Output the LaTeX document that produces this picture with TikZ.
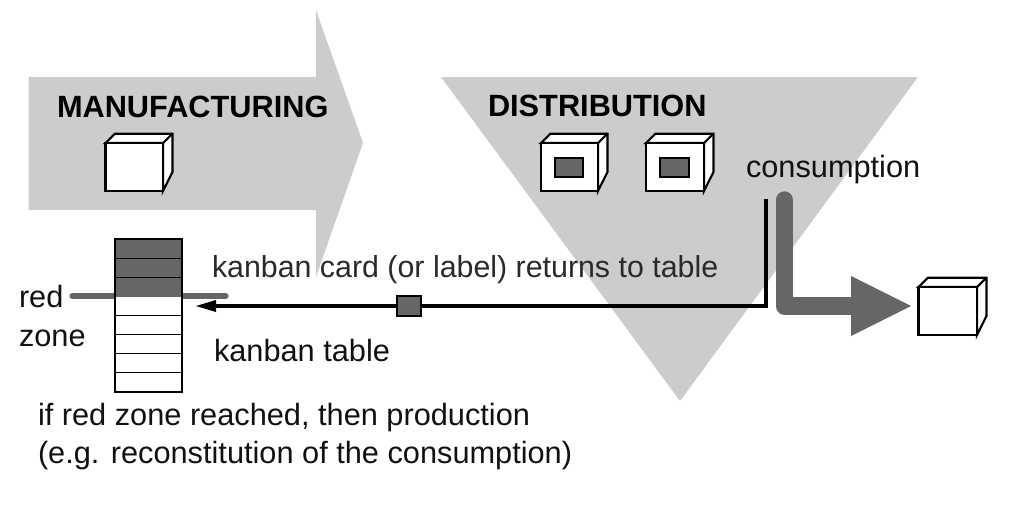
\documentclass[tikz,border=0pt]{standalone}
\usepackage{fontspec}
\setmainfont{Liberation Sans}
\usetikzlibrary{arrows.meta,calc}
\definecolor{lightgr}{HTML}{CCCCCC}
\definecolor{darkgr}{HTML}{666666}
\definecolor{inkc}{HTML}{111111}
\definecolor{softink}{HTML}{2A2A2A}
\tikzset{
  backshape/.style={fill=lightgr,draw=none},
  cubeface/.style={fill=white,draw=black,line width=1.6pt,line join=miter},
  label/.style={anchor=base west,inner sep=0pt,outer sep=0pt,font=\fontsize{23.05}{26}\selectfont,text=inkc},
  cardlabel/.style={label,font=\fontsize{22.77}{26}\selectfont,text=softink},
  heading/.style={label,font=\fontsize{23.05}{26}\selectfont\bfseries,text=black},
  insetbox/.style={fill=darkgr,draw=black,line width=1.6pt},
  tablerow/.style={draw=black,line width=0.6pt},
  tableframe/.style={draw=black,line width=1.6pt},
  redrow/.style={fill=darkgr,draw=none},
  kanbanflow/.style={draw=black,line width=2.7pt,line join=miter},
  redline/.style={draw=darkgr,line width=3.8pt,line cap=round},
  consume/.style={draw=darkgr,line width=13pt,line join=round,line cap=round},
  tokenbox/.style={fill=darkgr,draw=black,line width=1.2pt,minimum width=17.6pt,minimum height=14.6pt,inner sep=0pt,outer sep=0pt},
  blocktip/.style={fill=black,draw=none},
  bigtip/.style={fill=darkgr,draw=none}
}
% \cubebox{x0}{y0}{x1}{y1}: front face corners, depth fixed
\newcommand{\cubebox}[4]{%
  \path[cubeface] (#1,#2) -- (#1+9.5,#2-9.3) -- (#3+9.5,#2-9.3) -- (#3+9.5,#4-19) -- (#3,#4) -- (#3,#2) -- cycle;
  \path[cubeface] (#1,#2) rectangle (#3,#4);
  \path[cubeface] (#3,#2) -- (#3+9.5,#2-9.3);
}
\begin{document}
\begin{tikzpicture}[x=0.75pt,y=-0.75pt]
\useasboundingbox (0,0) rectangle (1024,507);
% background arrows
\path[backshape] (28.5,77) -- (316,77) -- (316,10) -- (363,143) -- (316,277) -- (316,210) -- (28.5,210) -- cycle;
\path[backshape] (441,77) -- (918,77) -- (680,401) -- cycle;
% cubes
\cubebox{105.5}{143}{163}{191}
\cubebox{541}{143}{598}{191}
\path[insetbox] (555,158) rectangle (583,177);
\cubebox{646}{143}{704}{191}
\path[insetbox] (660,158) rectangle (689,177);
\cubebox{918.5}{287}{977}{335}
% red zone line, behind the table
\coordinate (redL) at (72,296);
\coordinate (redR) at (226,296);
\draw[redline] (redL) -- (redR);
% kanban table
\path[fill=white] (115,239) rectangle (182,392);
\path[redrow] (115,239) rectangle (182,296.5);
\foreach \yy in {258,277,315,334,353,372} \draw[tablerow] (115,\yy) -- (182,\yy);
\node[tableframe,minimum width=50.25pt,minimum height=114.75pt,inner sep=0pt,outer sep=0pt] (table) at (148.5,315.5) {};
% consumption arrow
\coordinate (consTop) at (784.5,200);
\coordinate (consCorner) at (784.5,306);
\coordinate (consHead) at (852,306);
\coordinate (consTip) at (911,306);
\draw[consume] (consTop) -- (consCorner) -- (consHead);
\path[bigtip] (851,276) -- (consTip) -- (851,336) -- cycle;
% kanban card flow
\coordinate (flowStart) at (766,199);
\coordinate (flowCorner) at (766,306);
\coordinate (flowEnd) at (214,306);
\coordinate (flowTip) at (196,306);
\draw[kanbanflow] (flowStart) -- (flowCorner) -- (flowEnd);
\path[blocktip] (216,300) -- (flowTip) -- (216,312) -- cycle;
\node[tokenbox] (token) at (409,306) {};
% labels
\node[heading] (manu) at (57,117) {MANUFACTURING};
\node[heading] (dist) at (488,116) {DISTRIBUTION};
\node[label] (cons) at (746,177) {consumption};
\node[cardlabel] (card) at (212,277) {kanban card (or label) returns to table};
\node[label] (ktab) at (214,361) {kanban table};
\node[label] (red) at (19,307) {red};
\node[label] (zone) at (19,346) {zone};
\node[label] (if1) at (38,425) {if red zone reached, then production};
\node[label] (if2) at (38,463) {(e.g. reconstitution of the consumption)};
\end{tikzpicture}
\end{document}
